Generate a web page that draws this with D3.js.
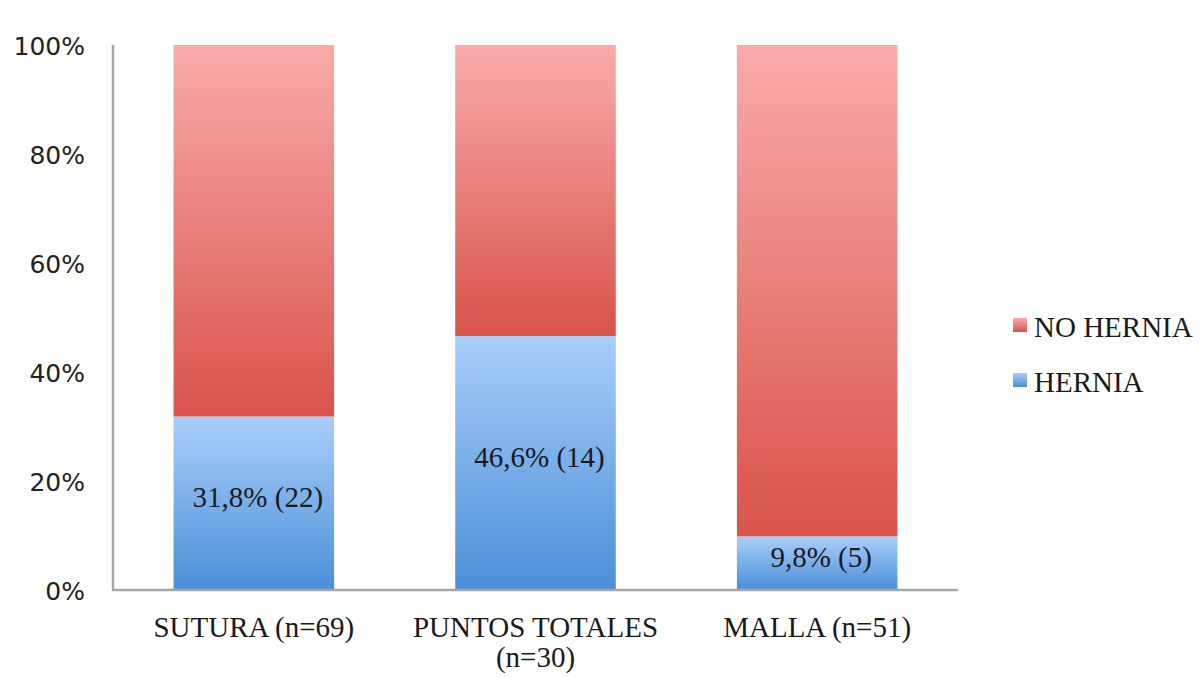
<!DOCTYPE html>
<html><head><meta charset="utf-8">
<script src="https://cdn.jsdelivr.net/npm/d3@7"></script>
<style>html,body{margin:0;padding:0;background:#fff;}</style>
</head><body>
<svg id="chart" width="1204" height="678"></svg>
<script>
const categories = [["SUTURA (n=69)"], ["PUNTOS TOTALES", "(n=30)"], ["MALLA (n=51)"]];
const hernia = [31.8, 46.6, 9.8];
const noHernia = [68.2, 53.4, 90.2];
const valueLabels = ["31,8% (22)", "46,6% (14)", "9,8% (5)"];
const seriesNames = ["NO HERNIA", "HERNIA"];
const yTicks = [0, 20, 40, 60, 80, 100];

(function () {
const svg = d3.select("#chart");
const mLeft = 113, mRight = 958, mTop = 45, mBottom = 590;
const serif = "'Liberation Serif', 'Times New Roman', serif";

const x = d3.scaleBand().domain(d3.range(categories.length)).range([mLeft, mRight]).paddingInner(0.43).paddingOuter(0.215);
const y = d3.scaleLinear().domain([0, 100]).range([mBottom, mTop]);

const defs = svg.append("defs");
const gR = defs.append("linearGradient").attr("id", "gRed").attr("x1", 0).attr("y1", 0).attr("x2", 0).attr("y2", 1);
gR.append("stop").attr("offset", "0%").attr("stop-color", "#f9abaa");
gR.append("stop").attr("offset", "100%").attr("stop-color", "#d9534b");
const gB = defs.append("linearGradient").attr("id", "gBlue").attr("x1", 0).attr("y1", 0).attr("x2", 0).attr("y2", 1);
gB.append("stop").attr("offset", "0%").attr("stop-color", "#a9cefa");
gB.append("stop").attr("offset", "100%").attr("stop-color", "#4a8fd8");

const data = categories.map((c, i) => ({i, h: hernia[i], n: noHernia[i], label: valueLabels[i]}));

svg.append("g").selectAll("rect").data(data).join("rect")
  .attr("x", d => x(d.i)).attr("width", x.bandwidth())
  .attr("y", d => y(d.h + d.n)).attr("height", d => y(d.h) - y(d.h + d.n))
  .attr("fill", "url(#gRed)");
svg.append("g").selectAll("rect").data(data).join("rect")
  .attr("x", d => x(d.i)).attr("width", x.bandwidth())
  .attr("y", d => y(d.h)).attr("height", d => y(0) - y(d.h))
  .attr("fill", "url(#gBlue)");

svg.append("g").selectAll("text").data(data).join("text")
  .attr("x", d => x(d.i) + x.bandwidth() / 2 + 4)
  .attr("y", d => (y(0) + y(d.h)) / 2 - 6)
  .attr("dy", "0.35em")
  .attr("text-anchor", "middle")
  .attr("font-family", serif)
  .attr("font-size", 29).attr("fill", "#1a1a1a")
  .text(d => d.label);

const yAxis = d3.axisLeft(y).tickValues(yTicks).tickFormat(d => d + "%").tickSize(0).tickPadding(28);
const ga = svg.append("g").attr("transform", `translate(${mLeft},0)`).call(yAxis);
ga.select(".domain").remove();
ga.selectAll("text").attr("font-family", "'DejaVu Sans', sans-serif").attr("font-size", 25).attr("fill", "#222").attr("dy", "0.38em");

svg.append("line").attr("x1", mLeft).attr("x2", mLeft).attr("y1", y(100)).attr("y2", y(0)).attr("stroke", "#a6a6a6").attr("stroke-width", 2.5);
svg.append("line").attr("x1", mLeft - 1).attr("x2", mRight).attr("y1", y(0)).attr("y2", y(0)).attr("stroke", "#a6a6a6").attr("stroke-width", 2.5);

const xl = svg.append("g").selectAll("text").data(categories.map((c, i) => ({c, i}))).join("text")
  .attr("text-anchor", "middle")
  .attr("font-family", serif)
  .attr("font-size", 29).attr("fill", "#1a1a1a");
xl.each(function(d) {
  const t = d3.select(this);
  d.c.forEach((line, k) => {
    t.append("tspan").attr("x", x(d.i) + x.bandwidth() / 2).attr("y", 637 + k * 30).text(line);
  });
});

const colors = ["url(#gRed)", "url(#gBlue)"];
const lg = svg.append("g").selectAll("g").data(seriesNames).join("g")
  .attr("transform", (d, i) => `translate(1013,${318 + i * 55})`);
lg.append("rect").attr("width", 14).attr("height", 14).attr("fill", (d, i) => colors[i]);
lg.append("text").attr("x", 21).attr("y", 19)
  .attr("font-family", serif)
  .attr("font-size", 29).attr("fill", "#1a1a1a").text(d => d);
})();
</script>
</body></html>
